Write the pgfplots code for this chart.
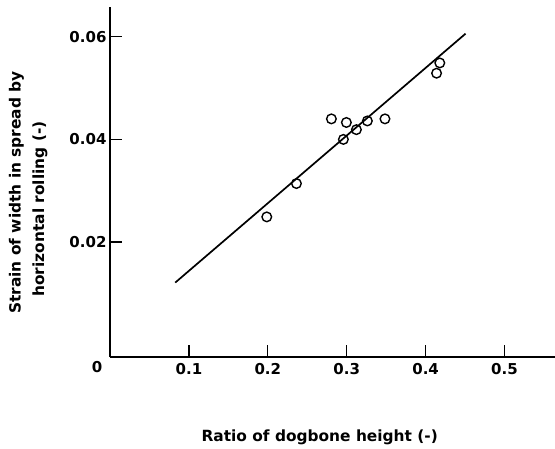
\documentclass[border=0pt]{standalone}
\usepackage{fontspec}
\setmainfont{DejaVu Sans}
\usepackage{pgfplots}
\pgfplotsset{compat=1.18}
\begin{document}
\begin{tikzpicture}
\useasboundingbox (-110pt,-91pt) rectangle (445pt,357pt);
\begin{axis}[
 at={(0,0)}, anchor=south west,
 scale only axis, width=445pt, height=350pt,
 xmin=0, xmax=0.564, ymin=-0.0024, ymax=0.0658,
 axis lines=left,
 axis line style={line width=1.3pt, -},
 scaled ticks=false,
 tick align=inside,
 major tick length=12pt,
 xtick style={draw=black, line width=1.4pt},
 ytick style={draw=black, line width=1.4pt},
 xtick={0.1,0.2,0.3,0.4,0.5},
 xticklabels={0.1,0.2,0.3,0.4,0.5},
 ytick={0.02,0.04,0.06},
 yticklabels={0.02,0.04,0.06},
 ticklabel style={font=\fontsize{15}{18}\selectfont\bfseries},
 xticklabel style={yshift=-3pt},
 clip=false,
]
\addplot[only marks, mark=o, mark size=4.8pt, line width=1.4pt, black] coordinates {
(0.1987,0.0249) (0.2363,0.0314) (0.2958,0.0400) (0.2806,0.0440) (0.2996,0.0433)
(0.3123,0.0419) (0.3262,0.0436) (0.3485,0.0440) (0.4139,0.0529) (0.4180,0.0549)
};
\addplot[line width=1.7pt, black, no marks] coordinates {(0.0827,0.0121) (0.4506,0.0606)};
\end{axis}
\begin{scope}[every node/.style={font=\fontsize{15.4}{18}\selectfont\bfseries}]
\node[rotate=90] at (-93.5pt,164.5pt) {Strain of width in spread by};
\node[rotate=90] at (-70pt,148pt) {horizontal rolling (-)};
\node[anchor=base] at (209.7pt,-84pt) {Ratio of dogbone height (-)};
\node[font=\fontsize{15}{18}\selectfont\bfseries] at (-13pt,-10pt) {0};
\end{scope}
\end{tikzpicture}
\end{document}
